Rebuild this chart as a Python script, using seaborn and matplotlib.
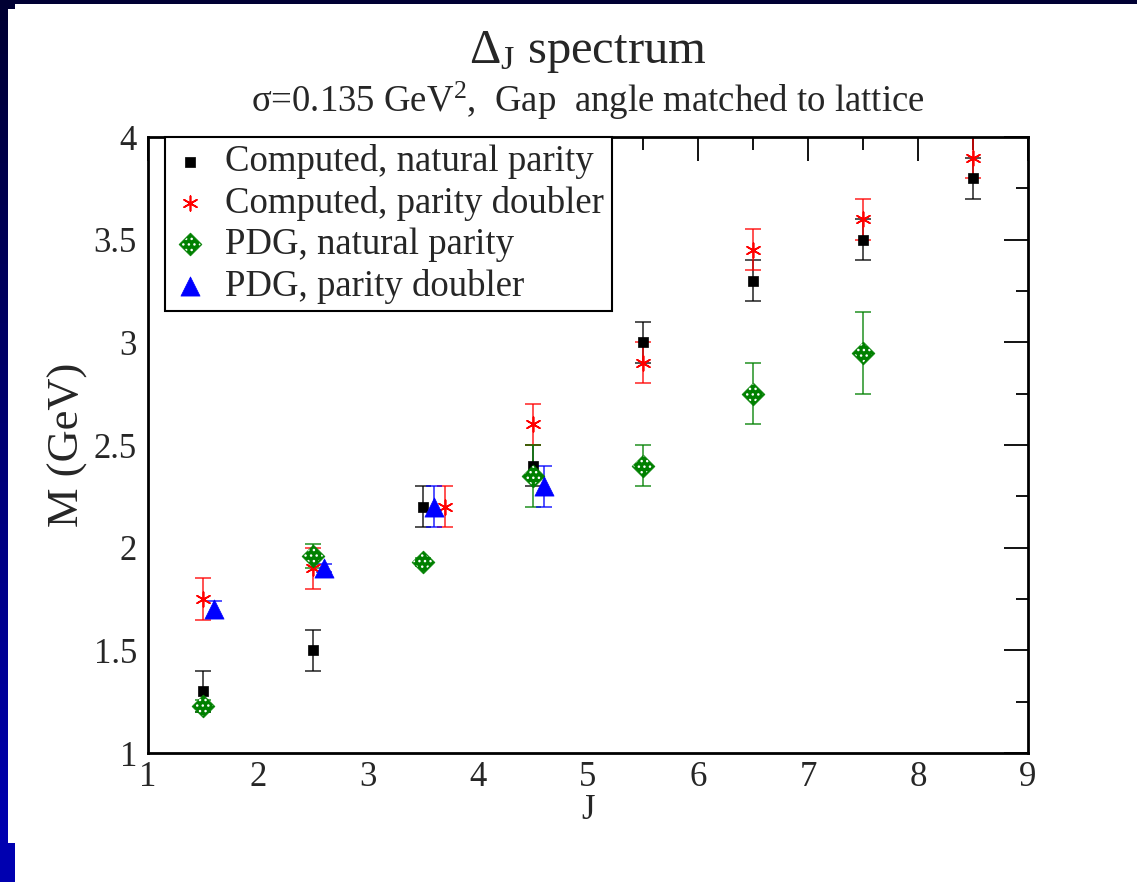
import matplotlib
matplotlib.use("Agg")
import matplotlib.pyplot as plt
import seaborn as sns
import numpy as np
import pandas as pd
from matplotlib.patches import Rectangle
from matplotlib.ticker import MultipleLocator
from matplotlib.legend_handler import HandlerTuple

# computed, natural parity
cn_j = [1.5, 2.5, 3.5, 4.5, 5.5, 6.5, 7.5, 8.5]
cn_m = [1.3, 1.5, 2.2, 2.4, 3.0, 3.3, 3.5, 3.8]
cn_err = [0.1, 0.1, 0.1, 0.1, 0.1, 0.1, 0.1, 0.1]

# computed, parity doubler
cd_j = [1.5, 2.5, 3.7, 4.5, 5.5, 6.5, 7.5, 8.5]
cd_m = [1.75, 1.9, 2.2, 2.6, 2.9, 3.45, 3.6, 3.9]
cd_err = [0.1, 0.1, 0.1, 0.1, 0.1, 0.1, 0.1, 0.1]

# PDG, natural parity
pn_j = [1.5, 2.5, 3.5, 4.5, 5.5, 6.5, 7.5]
pn_m = [1.23, 1.96, 1.93, 2.35, 2.4, 2.75, 2.95]
pn_err = [0.03, 0.06, 0.02, 0.15, 0.1, 0.15, 0.2]

# PDG, parity doubler
pd_j = [1.6, 2.6, 3.6, 4.6]
pd_m = [1.7, 1.9, 2.2, 2.3]
pd_err = [0.04, 0.02, 0.1, 0.1]

sns.set_style("white")
plt.rcParams["font.family"] = ["Liberation Serif", "DejaVu Serif"]
plt.rcParams["mathtext.fontset"] = "custom"
plt.rcParams["mathtext.rm"] = "Liberation Serif"
plt.rcParams["mathtext.it"] = "Liberation Serif:italic"
plt.rcParams["hatch.color"] = "white"
plt.rcParams["hatch.linewidth"] = 1.0

fig = plt.figure(figsize=(11.37, 8.82), dpi=100)
fig.patch.set_facecolor("white")
ax = fig.add_axes([148 / 1137, 129 / 882, 880 / 1137, 616 / 882])

series = [
    (cn_j, cn_m, cn_err, "black", "s", 52, "Computed, natural parity"),
    (cd_j, cd_m, cd_err, "red", (6, 2, 0), 110, "Computed, parity doubler"),
    (pn_j, pn_m, pn_err, "green", "D", 135, "PDG, natural parity"),
    (pd_j, pd_m, pd_err, "blue", "^", 190, "PDG, parity doubler"),
]

handles = []
labels = []
for j, m, e, col, mk, s, lab in series:
    ax.errorbar(j, m, yerr=e, fmt="none", ecolor=col, elinewidth=1.2,
                capsize=6, capthick=1.2, alpha=0.8, zorder=2)
    df = pd.DataFrame({"J": j, "M": m})
    lw = 1.2 if mk == (6, 2, 0) else 0.5
    sns.scatterplot(data=df, x="J", y="M", color=col, marker=mk, s=s, ax=ax,
                    zorder=3, legend=False, edgecolor=col, linewidth=lw)
    h = [ax.collections[-1]]
    if mk == "D":
        # white dotted fill pattern on top of the diamonds
        sns.scatterplot(data=df, x="J", y="M", marker=mk, s=s * 0.8, ax=ax,
                        zorder=4, legend=False, facecolor="none",
                        edgecolor="white", linewidth=0, hatch="...")
        h.append(ax.collections[-1])
    handles.append(tuple(h))
    labels.append(lab)

ax.set_xlim(1, 9)
ax.set_ylim(1, 4)
ax.xaxis.set_major_locator(MultipleLocator(1))
ax.xaxis.set_minor_locator(MultipleLocator(0.5))
ax.yaxis.set_major_locator(MultipleLocator(0.5))
ax.yaxis.set_minor_locator(MultipleLocator(0.25))
ax.yaxis.set_major_formatter(matplotlib.ticker.FuncFormatter(lambda v, p: f"{v:g}"))
ax.tick_params(which="both", direction="in", top=True, right=True, width=1.3,
               labelsize=25, color="black")
ax.tick_params(which="major", length=17)
ax.tick_params(axis="x", which="major", pad=6)
ax.tick_params(axis="y", which="major", pad=8)
ax.tick_params(which="minor", length=9)
for sp in ax.spines.values():
    sp.set_linewidth(2)
    sp.set_color("black")

ax.set_xlabel("J", fontsize=25, labelpad=0)
ax.set_ylabel("M (GeV)", fontsize=32, labelpad=4)

leg = ax.legend(handles, labels, loc="upper left", bbox_to_anchor=(0.019, 1.0),
                borderaxespad=0, fontsize=26.5, frameon=True, fancybox=False,
                edgecolor="black", framealpha=1, handletextpad=0.45,
                labelspacing=0.18, borderpad=0.2, handlelength=1.0,
                scatterpoints=1, handler_map={tuple: HandlerTuple(ndivide=1, pad=0)})
leg.get_frame().set_linewidth(1.5)
leg.set_zorder(5)

fig.text(588 / 1137, 1 - 52 / 882, r"$\Delta_{\mathrm{J}}$ spectrum", ha="center",
         va="center", fontsize=35)
fig.text(588 / 1137, 1 - 101 / 882,
         r"σ=0.135 GeV$^{2}$,  Gap  angle matched to lattice", ha="center",
         va="center", fontsize=26.5)

# slide border strips
fig.patches.append(Rectangle((0, 1 - 4 / 882), 1, 4 / 882, transform=fig.transFigure,
                             facecolor="#000033", edgecolor="none", zorder=0))
fig.patches.append(Rectangle((0, 1 - 9 / 882), 15 / 1137, 5 / 882, transform=fig.transFigure,
                             facecolor="#000033", edgecolor="none", zorder=0))
grad_ax = fig.add_axes([0, 39 / 882, 8 / 1137, 1 - 43 / 882])
grad_ax.imshow(np.linspace(0, 1, 100).reshape(-1, 1), aspect="auto",
               cmap=matplotlib.colors.LinearSegmentedColormap.from_list(
                   "edge", ["#000033", "#0000b0"]))
grad_ax.axis("off")
fig.patches.append(Rectangle((0, 0), 15 / 1137, 39 / 882, transform=fig.transFigure,
                             facecolor="#0000b0", edgecolor="none", zorder=0))

fig.savefig("out.png", dpi=100)
